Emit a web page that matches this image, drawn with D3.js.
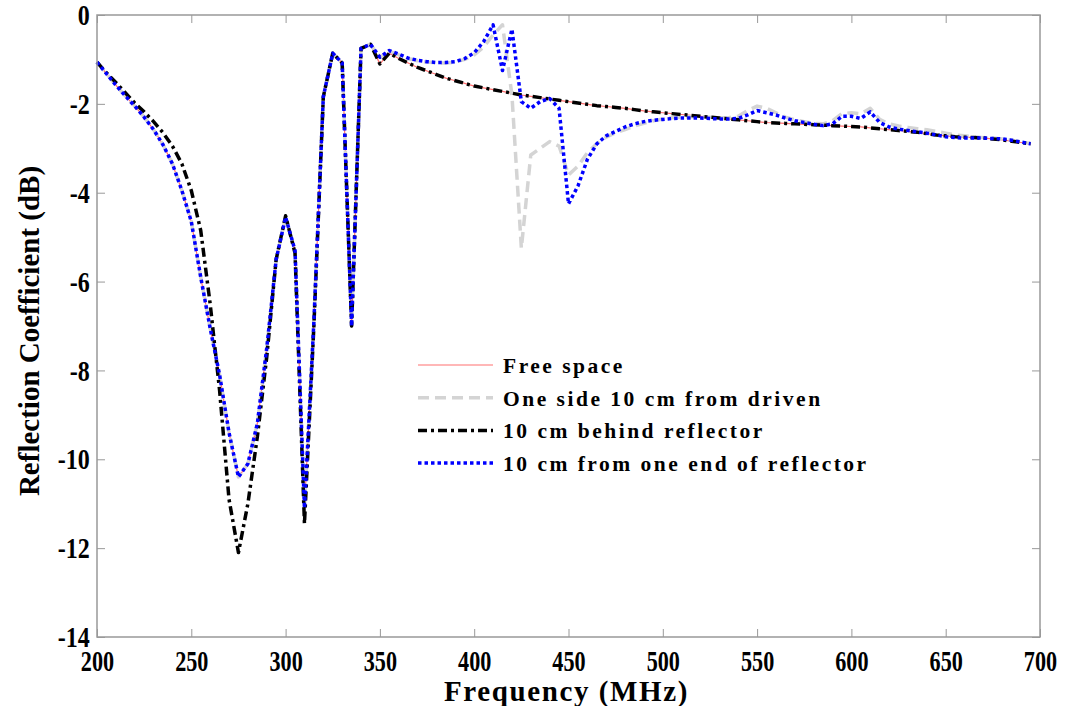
<!DOCTYPE html>
<html>
<head>
<meta charset="utf-8">
<script src="https://cdn.jsdelivr.net/npm/d3@7"></script>
<style>
  body { margin: 0; background: #fff; }
  text { font-family: "Liberation Serif", "Times New Roman", serif; font-weight: bold; }
</style>
</head>
<body>
<svg id="chart" width="1066" height="706"></svg>
<script>
// frequency grid (MHz)
var freq = [200,205,210,215,220,225,230,235,240,245,250,255,260,265,270,275,280,285,290,295,
            300,305,310,315,320,325,330,335,340,345,350,355,360,365,370,375,380,385,390,395,
            400,405,410,415,420,425,430,435,440,445,450,455,460,465,470,475,480,485,490,495,
            500,505,510,515,520,525,530,535,540,545,550,555,560,565,570,575,580,585,590,595,
            600,605,610,615,620,625,630,635,640,645,650,655,660,665,670,675,680,685,690,695];

// reflection coefficient (dB)
var freeSpace = [-1.06,-1.32,-1.58,-1.82,-2.05,-2.30,-2.58,-2.92,-3.35,-3.95,-4.65,-5.90,-7.05,-8.10,-9.40,-10.40,-10.10,-9.20,-7.50,-5.50,
                 -4.55,-5.30,-11.10,-6.90,-1.84,-0.86,-1.08,-7.00,-0.75,-0.66,-1.10,-0.86,-0.98,-1.08,-1.18,-1.26,-1.34,-1.42,-1.48,-1.54,
                 -1.60,-1.64,-1.68,-1.72,-1.76,-1.80,-1.83,-1.86,-1.89,-1.92,-1.95,-1.98,-2.01,-2.04,-2.06,-2.08,-2.10,-2.13,-2.16,-2.18,
                 -2.20,-2.22,-2.24,-2.26,-2.28,-2.30,-2.32,-2.34,-2.36,-2.38,-2.40,-2.42,-2.43,-2.44,-2.45,-2.46,-2.47,-2.48,-2.49,-2.50,
                 -2.51,-2.52,-2.54,-2.56,-2.58,-2.60,-2.62,-2.64,-2.67,-2.70,-2.72,-2.74,-2.75,-2.76,-2.77,-2.79,-2.81,-2.84,-2.87,-2.90];

var oneSide = [-1.06,-1.32,-1.58,-1.82,-2.05,-2.30,-2.58,-2.92,-3.35,-3.95,-4.65,-5.90,-7.05,-8.10,-9.40,-10.40,-10.10,-9.20,-7.50,-5.50,
               -4.55,-5.30,-11.10,-6.90,-1.84,-0.86,-1.08,-7.00,-0.75,-0.66,-0.95,-0.82,-0.90,-0.98,-1.03,-1.06,-1.08,-1.08,-1.06,-1.00,
               -0.90,-0.72,-0.45,-0.22,-1.80,-5.25,-3.15,-3.00,-2.85,-2.95,-3.60,-3.40,-3.10,-2.90,-2.75,-2.65,-2.58,-2.50,-2.44,-2.38,
               -2.34,-2.31,-2.30,-2.29,-2.29,-2.30,-2.31,-2.31,-2.28,-2.15,-2.05,-2.10,-2.20,-2.30,-2.36,-2.40,-2.44,-2.45,-2.38,-2.22,
               -2.20,-2.22,-2.10,-2.35,-2.45,-2.50,-2.53,-2.56,-2.58,-2.62,-2.66,-2.70,-2.72,-2.74,-2.76,-2.77,-2.79,-2.82,-2.86,-2.89];

var behind = [-1.06,-1.30,-1.52,-1.75,-1.98,-2.18,-2.40,-2.65,-2.95,-3.35,-3.95,-4.85,-6.50,-8.45,-10.90,-12.10,-11.00,-9.50,-7.70,-5.50,
              -4.52,-5.36,-11.45,-7.00,-1.84,-0.86,-1.08,-7.00,-0.75,-0.66,-1.10,-0.86,-0.98,-1.08,-1.18,-1.26,-1.34,-1.42,-1.48,-1.54,
              -1.60,-1.64,-1.68,-1.72,-1.76,-1.80,-1.83,-1.86,-1.89,-1.92,-1.95,-1.98,-2.01,-2.04,-2.06,-2.08,-2.10,-2.13,-2.16,-2.18,
              -2.20,-2.22,-2.24,-2.26,-2.28,-2.30,-2.32,-2.34,-2.36,-2.38,-2.40,-2.42,-2.43,-2.44,-2.45,-2.46,-2.47,-2.48,-2.49,-2.50,
              -2.51,-2.52,-2.54,-2.56,-2.58,-2.60,-2.62,-2.64,-2.67,-2.70,-2.72,-2.74,-2.75,-2.76,-2.77,-2.79,-2.81,-2.84,-2.87,-2.90];

var oneEnd = [-1.06,-1.32,-1.58,-1.82,-2.05,-2.30,-2.58,-2.92,-3.35,-3.95,-4.65,-5.90,-7.05,-8.10,-9.40,-10.40,-10.10,-9.20,-7.50,-5.50,
              -4.55,-5.30,-11.10,-6.90,-1.84,-0.86,-1.08,-7.00,-0.75,-0.66,-0.95,-0.80,-0.88,-0.97,-1.02,-1.05,-1.07,-1.07,-1.05,-0.98,
              -0.85,-0.60,-0.22,-1.25,-0.32,-1.95,-2.10,-1.95,-1.88,-2.10,-4.25,-3.85,-3.25,-2.90,-2.72,-2.62,-2.52,-2.45,-2.40,-2.37,
              -2.35,-2.33,-2.32,-2.32,-2.32,-2.33,-2.34,-2.34,-2.33,-2.25,-2.15,-2.20,-2.25,-2.32,-2.38,-2.42,-2.46,-2.49,-2.45,-2.28,
              -2.28,-2.33,-2.18,-2.42,-2.52,-2.57,-2.60,-2.63,-2.66,-2.70,-2.74,-2.76,-2.77,-2.77,-2.77,-2.78,-2.79,-2.82,-2.86,-2.90];

var seriesNames = ["Free space", "One side 10 cm from driven", "10 cm behind reflector", "10 cm from one end of reflector"];
var xTicks = [200,250,300,350,400,450,500,550,600,650,700];
var yTicks = [0,-2,-4,-6,-8,-10,-12,-14];

var svg = d3.select("#chart");
var margin = {left: 97, right: 26, top: 15, bottom: 69};
var width = 1066 - margin.left - margin.right;
var height = 706 - margin.top - margin.bottom;

var x = d3.scaleLinear().domain([200, 700]).range([0, width]);
var y = d3.scaleLinear().domain([-14, 0]).range([height, 0]);

var g = svg.append("g")
    .attr("transform", "translate(" + margin.left + "," + margin.top + ")");

// styles for each series, drawn bottom to top
var styles = [
  {values: freeSpace, color: "#ff7070", width: 1.2, dash: null},
  {values: oneSide,   color: "#d4d4d4", width: 3.5, dash: "11,6"},
  {values: behind,    color: "#000000", width: 3.5, dash: "9,4,3,4"},
  {values: oneEnd,    color: "#0000ff", width: 3.5, dash: "3.5,3"}
];

var line = d3.line()
    .x(d => x(d[0]))
    .y(d => y(d[1]));

g.selectAll("path.series")
  .data(styles)
  .join("path")
    .attr("class", "series")
    .attr("d", s => line(freq.map((f, i) => [f, s.values[i]])))
    .attr("fill", "none")
    .attr("stroke", s => s.color)
    .attr("stroke-width", s => s.width)
    .attr("stroke-dasharray", s => s.dash)
    .attr("stroke-linejoin", "round");

// frame
g.append("rect")
    .attr("width", width)
    .attr("height", height)
    .attr("fill", "none")
    .attr("stroke", "#999")
    .attr("stroke-width", 1.5);

// axes with inward ticks
var xAxis = g.append("g")
    .attr("transform", "translate(0," + height + ")")
    .call(d3.axisBottom(x).tickValues(xTicks).tickSizeInner(-8).tickSizeOuter(0).tickPadding(13));

var yAxis = g.append("g")
    .call(d3.axisLeft(y).tickValues(yTicks).tickSizeInner(-8).tickSizeOuter(0).tickPadding(9)
      .tickFormat(d => String(d)));

g.append("g")
    .call(d3.axisTop(x).tickValues(xTicks).tickSizeInner(-8).tickSizeOuter(0).tickFormat(""));

g.append("g")
    .attr("transform", "translate(" + width + ",0)")
    .call(d3.axisRight(y).tickValues(yTicks).tickSizeInner(-8).tickSizeOuter(0).tickFormat(""));

g.selectAll(".domain").remove();
g.selectAll(".tick line").attr("stroke", "#999");

xAxis.selectAll("text")
    .style("font-size", "30px")
    .attr("fill", "#000")
    .attr("transform", "scale(0.74,1)");

yAxis.selectAll("text")
    .style("font-size", "30px")
    .attr("fill", "#000")
    .attr("transform", "scale(0.8,1)");

// axis titles
svg.append("text")
    .attr("x", margin.left + width / 2 - 2)
    .attr("y", 701)
    .attr("text-anchor", "middle")
    .style("font-size", "29px")
    .style("letter-spacing", "1.6px")
    .text("Frequency (MHz)");

svg.append("text")
    .attr("transform", "translate(39," + (margin.top + height / 2 + 5) + ") rotate(-90)")
    .attr("text-anchor", "middle")
    .style("font-size", "29px")
    .text("Reflection Coefficient (dB)");

// legend
var legend = svg.append("g").attr("transform", "translate(418,365)");
var rows = legend.selectAll("g")
  .data(styles)
  .join("g")
    .attr("transform", (d, i) => "translate(0," + (i * 32.7) + ")");

rows.append("line")
    .attr("x1", 0).attr("x2", 75)
    .attr("stroke", d => d.color)
    .attr("stroke-width", d => d.width)
    .attr("stroke-dasharray", d => d.dash);

rows.append("text")
    .attr("x", 85)
    .attr("y", 8)
    .style("font-size", "21.5px")
    .style("letter-spacing", "2.5px")
    .text((d, i) => seriesNames[i]);
</script>
</body>
</html>
